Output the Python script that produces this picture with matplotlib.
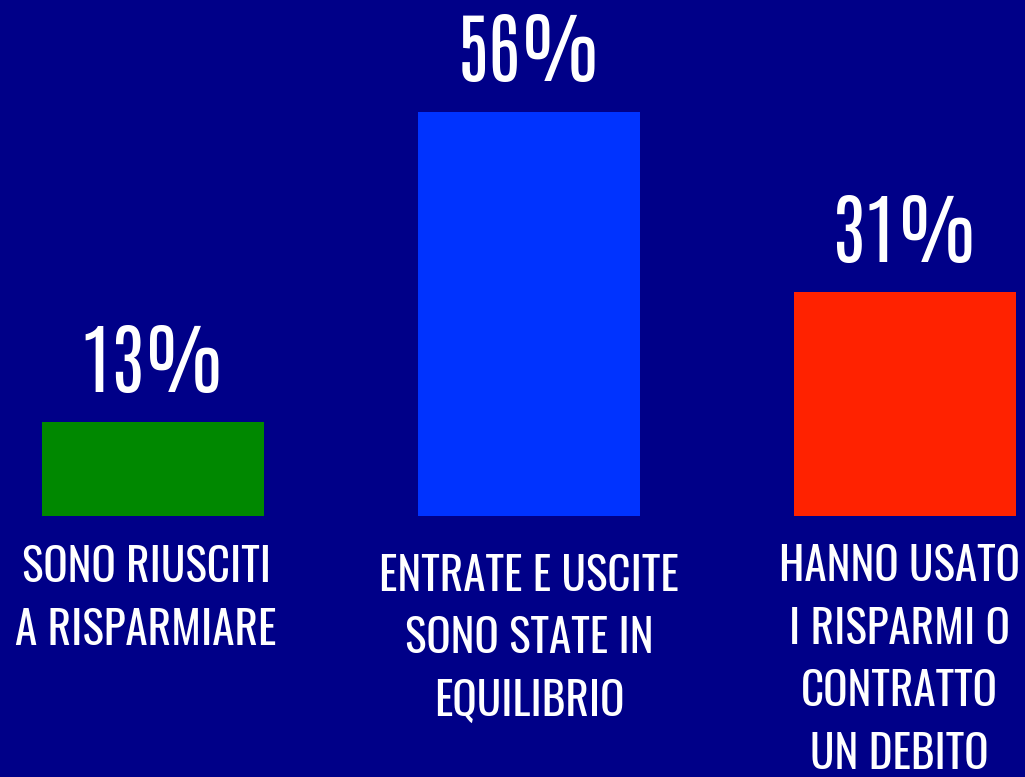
import matplotlib
matplotlib.use("Agg")
import matplotlib.pyplot as plt

categories = ["SONO RIUSCITI\nA RISPARMIARE",
              "ENTRATE E USCITE\nSONO STATE IN\nEQUILIBRIO",
              "HANNO USATO\nI RISPARMI O\nCONTRATTO\nUN DEBITO"]
values = [13, 56, 31]
value_labels = ["13%", "56%", "31%"]
bar_colors = ["#008800", "#0033ff", "#ff2200"]
bg = "#000088"

VALUE_FONT = "Antonio"
LABEL_FONT = "Oswald"

fig = plt.figure(figsize=(10.25, 7.77), dpi=100, facecolor=bg)
ax = fig.add_axes([0, 0, 1, 1])
ax.set_facecolor(bg)
x = list(range(len(values)))
ax.bar(x, values, width=0.59, color=bar_colors)
ax.set_xlim(-0.407, 2.319)
ax.set_ylim(-36.18, 71.53)
ax.axis("off")

for xi, v, lab in zip(x, values, value_labels):
    ax.annotate(lab, (xi, v), xytext=(0, 22), textcoords="offset points",
                ha="center", va="baseline", color="white",
                fontsize=55, family=VALUE_FONT)

label_offsets = [(-5, -21), (0, -27), (-4, -20)]
for xi, cat, (dx, dy) in zip(x, categories, label_offsets):
    ax.annotate(cat, (xi, 0), xytext=(dx, dy), textcoords="offset points",
                ha="center", va="top", color="white", fontsize=32.5,
                family=LABEL_FONT, linespacing=1.48)

fig.savefig("out.png", facecolor=bg)
